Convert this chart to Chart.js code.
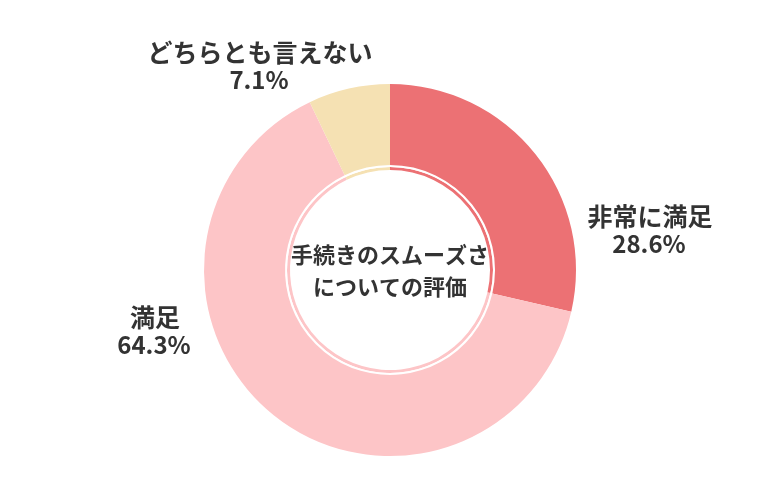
<!DOCTYPE html>
<html>
<head>
<meta charset="utf-8">
<script src="https://cdn.jsdelivr.net/npm/chart.js@4"></script>
<style>
  html, body { margin: 0; padding: 0; background: #fff; }
  #wrap { width: 780px; height: 500px; }
</style>
</head>
<body>
<div id="wrap"><canvas id="donutChart" width="780" height="500"></canvas></div>
<script>
const labels = ['非常に満足', '満足', 'どちらとも言えない'];
const values = [28.6, 64.3, 7.1];
const colors = ['#ec7174', '#fdc5c7', '#f5e1b3'];
const centerTitle = ['手続きのスムーズさ', 'についての評価'];

const FONT = '"Noto Sans CJK JP", "Noto Sans", sans-serif';
const TEXT = '#333333';

// where each outside label sits, relative to the chart centre
const labelOffsets = [
  { dx: 260, dy: -54 },
  { dx: -235, dy: 47 },
  { dx: -130, dy: -218 },
];

const labelPlugin = {
  id: 'labelPlugin',
  afterDraw(chart) {
    const ctx = chart.ctx;
    const meta = chart.getDatasetMeta(0);
    const arc = meta.data[0];
    const cx = arc.x, cy = arc.y;
    ctx.save();
    ctx.fillStyle = TEXT;
    ctx.textAlign = 'center';
    ctx.textBaseline = 'middle';

    // centre title
    ctx.font = 'bold 22px ' + FONT;
    ctx.fillText(centerTitle[0], cx, cy - 15);
    ctx.fillText(centerTitle[1], cx, cy + 17);

    // outside labels
    labels.forEach((name, i) => {
      const o = labelOffsets[i];
      ctx.font = 'bold 25px ' + FONT;
      ctx.fillText(name, cx + o.dx, cy + o.dy);
      ctx.font = 'bold 24px ' + FONT;
      ctx.fillText(values[i].toFixed(1) + '%', cx + o.dx - 1, cy + o.dy + 28);
    });
    ctx.restore();
  }
};

const data = {
  labels: labels,
  datasets: [
    {
      label: 'outer',
      data: values,
      backgroundColor: colors,
      borderWidth: 0,
      weight: 81,
    },
    {
      label: 'gap',
      data: [100],
      backgroundColor: ['#ffffff'],
      borderWidth: 0,
      weight: 2,
    },
    {
      label: 'inner',
      data: values,
      backgroundColor: colors,
      borderWidth: 0,
      weight: 3,
    }
  ]
};

const config = {
  type: 'doughnut',
  data: data,
  options: {
    responsive: false,
    animation: false,
    cutout: 100,
    layout: { padding: { top: 84, bottom: 44 } },
    plugins: {
      legend: { display: false },
      tooltip: { enabled: false },
    }
  },
  plugins: [labelPlugin]
};

const myChart = new Chart(
  document.getElementById('donutChart'),
  config
);
</script>
</body>
</html>
